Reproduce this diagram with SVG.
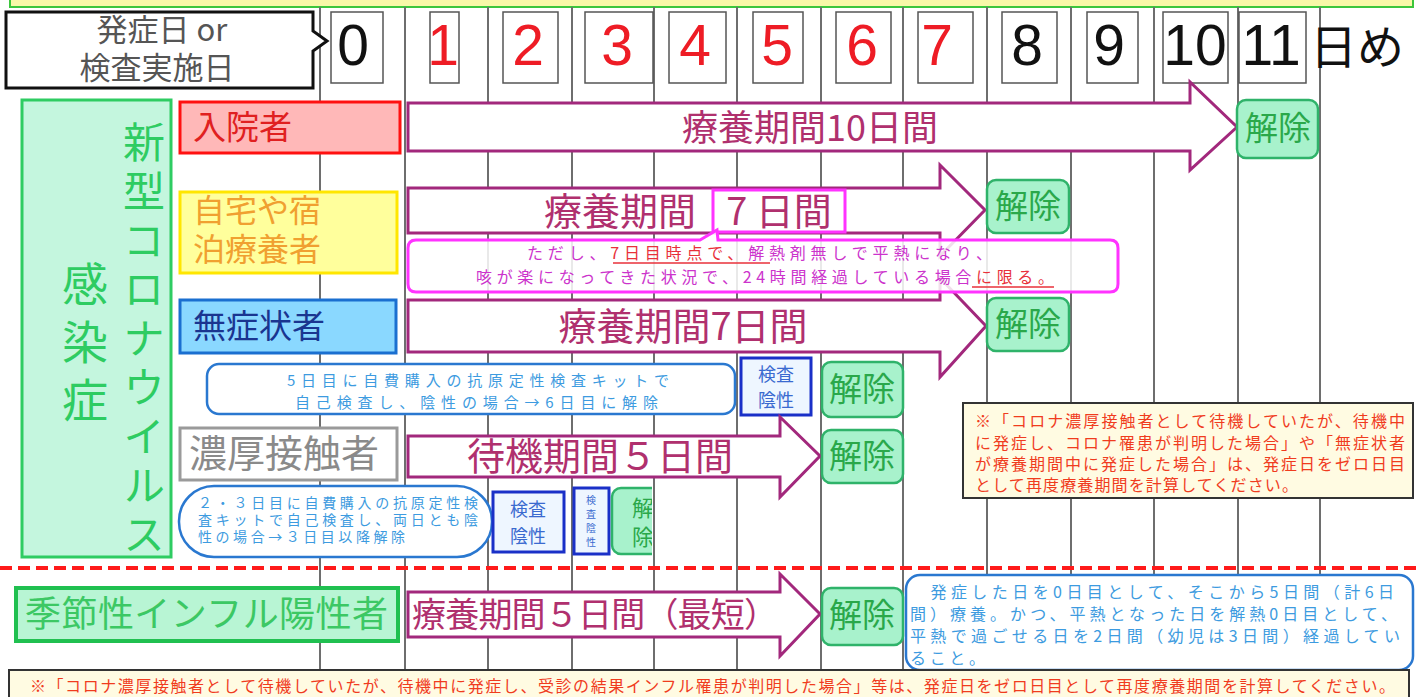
<svg xmlns="http://www.w3.org/2000/svg" width="1422" height="697" viewBox="0 0 1422 697">
<defs>
<style>
text{font-family:"Noto Sans CJK JP","Noto Sans",sans-serif;}
.grid{stroke:#6e6e6e;stroke-width:2;}
.numbox{fill:#fff;stroke:#555;stroke-width:1.5;}
.num{font-family:"Liberation Sans","Noto Sans CJK JP",sans-serif;font-size:57px;text-anchor:middle;}
.red{fill:#ee1c25;}
.blk{fill:#111;}
.arrow{fill:#fff;stroke:#a2287c;stroke-width:3;stroke-linejoin:miter;}
.atext{fill:#b0306e;text-anchor:middle;}
.kaijo{fill:#a8f2cc;stroke:#2fb36a;stroke-width:2.5;}
.ktext{fill:#2aa84a;font-size:33px;text-anchor:middle;}
.kensa{fill:#eef6ff;stroke:#1a30c8;stroke-width:3;}
.kstext{fill:#3a6ad0;font-size:18px;text-anchor:middle;}
.btext{fill:#3d9be0;}
.bcall{fill:#fff;stroke:#2a78d0;stroke-width:2.5;}
.note{fill:#fffbe2;stroke:#333;stroke-width:2;}
.ntext{fill:#f03c1e;font-size:16px;}
.vert{writing-mode:vertical-rl;}
</style>
<clipPath id="kclip"><rect x="610" y="486" width="42" height="72"/></clipPath>
</defs>
<rect width="1422" height="697" fill="#fff"/>

<g id="top-band">
<rect x="10" y="-6" width="1403" height="13" fill="#f8f8a8" stroke="#3cc63c" stroke-width="2"/>
</g>

<g id="grid">
<line class="grid" x1="320" y1="7" x2="320" y2="670"/>
<line class="grid" x1="405" y1="7" x2="405" y2="670"/>
<line class="grid" x1="488" y1="7" x2="488" y2="670"/>
<line class="grid" x1="572" y1="7" x2="572" y2="670"/>
<line class="grid" x1="654" y1="7" x2="654" y2="670"/>
<line class="grid" x1="737" y1="7" x2="737" y2="670"/>
<line class="grid" x1="821" y1="7" x2="821" y2="670"/>
<line class="grid" x1="903" y1="7" x2="903" y2="670"/>
<line class="grid" x1="987" y1="7" x2="987" y2="670"/>
<line class="grid" x1="1071" y1="7" x2="1071" y2="670"/>
<line class="grid" x1="1154" y1="7" x2="1154" y2="670"/>
<line class="grid" x1="1238" y1="7" x2="1238" y2="670"/>
<line class="grid" x1="1320" y1="7" x2="1320" y2="670"/>
<line x1="0" y1="568" x2="1422" y2="568" stroke="#ff1a1a" stroke-width="4" stroke-dasharray="12 6"/>
</g>

<g id="header">
<path d="M6,12 H313 V31 L327,41 L313,51 V88 H6 Z" fill="#fff" stroke="#111" stroke-width="3"/>
<text font-size="31" fill="#555" text-anchor="middle"><tspan x="162" y="41">発症日 or</tspan><tspan x="157" y="79">検査実施日</tspan></text>
</g>

<g id="days">
<rect class="numbox" x="331" y="12" width="52" height="71"/>
<rect class="numbox" x="430" y="12" width="29" height="71"/>
<rect class="numbox" x="503" y="12" width="55" height="71"/>
<rect class="numbox" x="585" y="12" width="68" height="71"/>
<rect class="numbox" x="669" y="12" width="57" height="71"/>
<rect class="numbox" x="753" y="12" width="50" height="71"/>
<rect class="numbox" x="836" y="12" width="55" height="71"/>
<rect class="numbox" x="918" y="12" width="55" height="71"/>
<rect class="numbox" x="1002" y="12" width="55" height="71"/>
<rect class="numbox" x="1087" y="12" width="51" height="71"/>
<rect class="numbox" x="1163" y="12" width="65" height="71"/>
<rect class="numbox" x="1239" y="12" width="67" height="71"/>
<text class="num blk" x="353" y="65">0</text>
<text class="num red" x="443" y="65">1</text>
<text class="num red" x="528" y="65">2</text>
<text class="num red" x="617" y="65">3</text>
<text class="num red" x="695" y="65">4</text>
<text class="num red" x="777" y="65">5</text>
<text class="num red" x="862" y="65">6</text>
<text class="num red" x="937" y="65">7</text>
<text class="num blk" x="1027" y="65">8</text>
<text class="num blk" x="1109" y="65">9</text>
<text class="num blk" x="1195" y="65">10</text>
<text class="num blk" x="1271" y="65">11</text>
<text x="1310" y="64" font-size="47" fill="#111">日め</text>
</g>

<g id="covid-group">
<rect x="22" y="100" width="149" height="457" fill="#c4f6de" stroke="#2ecc62" stroke-width="3"/>
<text class="vert" x="144" y="121" font-size="42" letter-spacing="7" fill="#2ecc62">新型コロナウイルス</text>
<text class="vert" x="85" y="261" font-size="46" letter-spacing="12" fill="#2ecc62">感染症</text>
</g>

<g id="inpatient">
<rect x="180" y="102" width="220" height="51" fill="#ffb8b8" stroke="#ff1010" stroke-width="3"/>
<text x="193" y="139" font-size="33" fill="#e02020">入院者</text>
<path class="arrow" d="M408,103 H1190 V82 L1237,127 L1190,170 V151 H408 Z"/>
<text class="atext" x="810" y="141" font-size="36">療養期間10日間</text>
<rect class="kaijo" x="1237" y="100" width="81" height="58" rx="9"/>
<text class="ktext" x="1278" y="140">解除</text>
</g>

<g id="home">
<rect x="180" y="192" width="217" height="81" fill="#ffff9c" stroke="#ffe600" stroke-width="3"/>
<text font-size="32" fill="#f0a030"><tspan x="193" y="222">自宅や宿</tspan><tspan x="193" y="261">泊療養者</tspan></text>
<path class="arrow" d="M408,188 H940 V165 L985,210 L940,256 V233 H408 Z"/>
<text class="atext" x="620" y="225" font-size="38">療養期間</text>
<rect x="713" y="190" width="132" height="42" fill="#fff" stroke="#ff33ff" stroke-width="3"/>
<text class="atext" x="779" y="225" font-size="38">7 日間</text>
<rect class="kaijo" x="987" y="180" width="82" height="53" rx="9"/>
<text class="ktext" x="1028" y="218">解除</text>
</g>

<g id="symptomless">
<rect x="180" y="300" width="216" height="53" fill="#8ad8ff" stroke="#1a6fd0" stroke-width="3"/>
<text x="193" y="338" font-size="33" fill="#1a3590">無症状者</text>
<path class="arrow" d="M408,300 H940 V278 L986,326 L940,377 V352 H408 Z"/>
<text class="atext" x="683" y="340" font-size="38">療養期間7日間</text>
<rect class="kaijo" x="987" y="298" width="82" height="53" rx="9"/>
<text class="ktext" x="1028" y="336">解除</text>
</g>

<g id="condition-callout">
<path d="M416,240 H700 L717,230 L718,240 H1110 Q1118,240 1118,248 V284 Q1118,292 1110,292 H416 Q408,292 408,284 V248 Q408,240 416,240 Z" fill="#fff" fill-opacity="0.85" stroke="#ff33ff" stroke-width="3"/>
<text font-size="16" fill="#cc33cc"><tspan x="527" y="259" textLength="465" lengthAdjust="spacing">ただし、<tspan fill="#e8303a">7日目時点で、</tspan>解熱剤無しで平熱になり、</tspan><tspan x="476" y="283" textLength="578" lengthAdjust="spacing">咳が楽になってきた状況で、24時間経過している場合<tspan fill="#e8303a">に限る。</tspan></tspan></text>
<line x1="613" y1="263" x2="770" y2="263" stroke="#e8303a" stroke-width="1.5"/>
<line x1="972" y1="287" x2="1054" y2="287" stroke="#e8303a" stroke-width="1.5"/>
</g>

<g id="day5-test">
<rect class="bcall" x="207" y="364" width="528" height="50" rx="12"/>
<text class="btext" font-size="15"><tspan x="287" y="386" textLength="382" lengthAdjust="spacing">5日目に自費購入の抗原定性検査キットで</tspan><tspan x="295" y="408" textLength="363" lengthAdjust="spacing">自己検査し、陰性の場合→6日目に解除</tspan></text>
<rect class="kensa" x="741" y="358" width="70" height="57"/>
<text class="kstext"><tspan x="776" y="381">検査</tspan><tspan x="776" y="407">陰性</tspan></text>
<rect class="kaijo" x="822" y="362" width="81" height="55" rx="9"/>
<text class="ktext" x="862" y="401">解除</text>
</g>

<g id="close-contact">
<rect x="180" y="428" width="217" height="52" fill="#fff" stroke="#9a9a9a" stroke-width="3"/>
<text x="189" y="467" font-size="38" fill="#8a8a8a">濃厚接触者</text>
<path class="arrow" d="M408,436 H780 V417 L820,456 L780,497 V477 H408 Z"/>
<text class="atext" x="600" y="470" font-size="38">待機期間５日間</text>
<rect class="kaijo" x="822" y="430" width="81" height="53" rx="9"/>
<text class="ktext" x="862" y="468">解除</text>
</g>

<g id="day23-test">
<rect class="bcall" x="179" y="486" width="313" height="71" rx="35"/>
<text class="btext" font-size="14"><tspan x="198" y="508" textLength="280" lengthAdjust="spacing">２・３日目に自費購入の抗原定性検</tspan><tspan x="198" y="525" textLength="280" lengthAdjust="spacing">査キットで自己検査し、両日とも陰</tspan><tspan x="198" y="542" textLength="207" lengthAdjust="spacing">性の場合→３日目以降解除</tspan></text>
<rect class="kensa" x="493" y="492" width="71" height="60"/>
<text class="kstext" font-size="19"><tspan x="528" y="516">検査</tspan><tspan x="528" y="543">陰性</tspan></text>
<rect class="kensa" x="574" y="488" width="35" height="66" stroke-width="2.5"/>
<text class="vert" x="591" y="495" font-size="10" letter-spacing="4" fill="#3a6ad0">検査陰性</text>
<g clip-path="url(#kclip)">
<rect class="kaijo" x="612" y="488" width="60" height="66" rx="9"/>
<text class="vert" x="643" y="497" font-size="22" letter-spacing="7" fill="#2aa84a">解除</text>
</g>
</g>

<g id="covid-note">
<rect class="note" x="963" y="403" width="450" height="95"/>
<text class="ntext"><tspan x="975" y="427" textLength="430" lengthAdjust="spacing">※「コロナ濃厚接触者として待機していたが、待機中</tspan><tspan x="975" y="449" textLength="430" lengthAdjust="spacing">に発症し、コロナ罹患が判明した場合」や「無症状者</tspan><tspan x="975" y="470" textLength="430" lengthAdjust="spacing">が療養期間中に発症した場合」は、発症日をゼロ日目</tspan><tspan x="975" y="491" textLength="323" lengthAdjust="spacing">として再度療養期間を計算してください。</tspan></text>
</g>

<g id="influenza">
<rect x="16" y="588" width="382" height="53" fill="#b8f5d4" stroke="#20c050" stroke-width="4"/>
<text x="25" y="627" font-size="36" fill="#3cc864" textLength="363" lengthAdjust="spacing">季節性インフル陽性者</text>
<path class="arrow" d="M408,592 H780 V574 L820,614 L780,656 V637 H408 Z"/>
<text x="412" y="627" font-size="34" fill="#b0306e" textLength="366" lengthAdjust="spacing">療養期間５日間（最短）</text>
<rect class="kaijo" x="822" y="588" width="81" height="57" rx="9"/>
<text class="ktext" x="862" y="627">解除</text>
</g>

<g id="influenza-callout">
<rect class="bcall" x="906" y="575" width="507" height="95" rx="14"/>
<text class="btext" font-size="16"><tspan x="910" y="598" textLength="484" lengthAdjust="spacing">　発症した日を0日目として、そこから5日間（計6日</tspan><tspan x="910" y="620" textLength="487" lengthAdjust="spacing">間）療養。かつ、平熱となった日を解熱0日目として、</tspan><tspan x="910" y="642" textLength="490" lengthAdjust="spacing">平熱で過ごせる日を2日間（幼児は3日間）経過してい</tspan><tspan x="910" y="664" textLength="75" lengthAdjust="spacing">ること。</tspan></text>
</g>

<g id="bottom-note">
<rect class="note" x="9" y="670" width="1400" height="40" stroke-width="1.5"/>
<text class="ntext" x="30" y="692" font-size="17" textLength="1365" lengthAdjust="spacing">※「コロナ濃厚接触者として待機していたが、待機中に発症し、受診の結果インフル罹患が判明した場合」等は、発症日をゼロ日目として再度療養期間を計算してください。</text>
</g>

<g id="connectors"></g>
</svg>
